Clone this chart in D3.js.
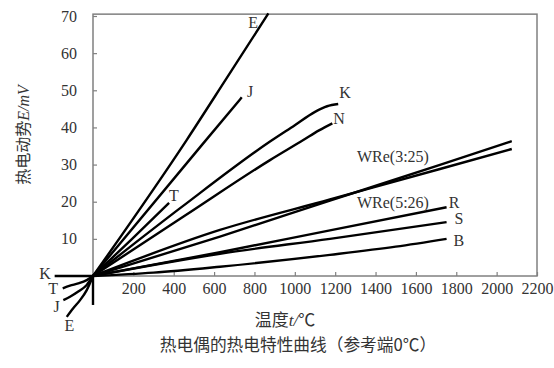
<!DOCTYPE html>
<html>
<head>
<meta charset="utf-8">
<script src="https://cdn.jsdelivr.net/npm/d3@7/dist/d3.min.js"></script>
<style>
  html, body { margin: 0; padding: 0; background: #fff; }
  svg { display: block; }
</style>
</head>
<body>
<svg id="chart" width="554" height="368"></svg>
<script>
// ---- data (temperature °C, EMF mV) ----
const xTicks = [200, 400, 600, 800, 1000, 1200, 1400, 1600, 1800, 2000, 2200];
const yTicks = [10, 20, 30, 40, 50, 60, 70];

// positive-temperature branches
const curveE = [[0, 0], [464, 36.6], [664, 53.4], [869, 70.7]];
const curveJ = [[0, 0], [540, 35.3], [737, 48.1]];
const curveT = [[0, 0], [190, 9.8], [377, 19.7]];
const curveK = [[0, 0], [440, 18.6], [877, 36.2], [1000, 40.6], [1100, 44.2], [1160, 45.7], [1215, 46.3]];
const curveN = [[0, 0], [460, 16.4], [877, 31.2], [1042, 36.6], [1120, 39.2], [1186, 41.1]];
const curveWRe526 = [[0, 0], [629, 12.4], [1174, 20.6], [1719, 28.8], [2075, 34.2]];
const curveWRe325 = [[0, 0], [629, 10.6], [1174, 20.3], [1719, 29.9], [2075, 36.3]];
const curveR = [[0, 0], [629, 6.4], [1174, 12.3], [1752, 18.5]];
const curveS = [[0, 0], [629, 6.0], [1174, 10.0], [1752, 14.5]];
const curveB = [[0, 0], [300, 0.9], [629, 2.5], [1174, 5.7], [1500, 7.9], [1752, 10.0]];

// negative-temperature branches
const negE = [[-130, -11.0], [-98, -8.7], [-64, -6.5], [-31, -3.8], [0, 0]];
const negJ = [[-147, -6.5], [-114, -5.6], [-73, -4.2], [-31, -2.4], [0, 0]];
const negT = [[-150, -3.3], [-114, -2.6], [-73, -2.0], [-31, -1.1], [0, 0]];
const negK = [[-190, 0], [0, 0]];

const seriesList = [curveE, curveJ, curveT, curveK, curveN, curveWRe526, curveWRe325, curveR, curveS, curveB,
                    negE, negJ, negT, negK];

// curve labels, anchored at data coordinates
const labelText = ["E", "J", "K", "N", "T", "WRe(3:25)", "WRe(5:26)", "R", "S", "B", "K", "T", "J", "E"];
const labelT    = [794, 778, 1249, 1219, 401, 1308, 1308, 1789, 1813, 1813, -238, -197, -180, -117];
const labelV    = [68.2, 49.6, 49.3, 42.5, 21.8, 32.3, 19.7, 19.7, 15.5, 9.7, 0.7, -3.3, -8.3, -13.2];
const labelAnchor = ["middle", "middle", "middle", "middle", "middle", "start", "start", "middle", "middle", "middle", "middle", "middle", "middle", "middle"];

const xDomain = [0, 2200];
const yDomain = [0, 70];
const yBoxTop = 70.5;
const yAxisBottom = -7.8;

// ---- drawing ----
const svg = d3.select("#chart");
const x = d3.scaleLinear().domain(xDomain).range([93, 537]);
const y = d3.scaleLinear().domain(yDomain).range([276, 16]);

const serif = "'Liberation Serif', 'Times New Roman', serif";
const cjk = "'Noto Sans CJK SC', sans-serif";

// plot box
svg.append("rect")
  .attr("x", x(xDomain[0])).attr("y", y(yBoxTop))
  .attr("width", x(xDomain[1]) - x(xDomain[0]))
  .attr("height", y(0) - y(yBoxTop))
  .attr("fill", "none").attr("stroke", "#808080").attr("stroke-width", 1.5);

// y axis extension below zero
svg.append("line")
  .attr("x1", x(0)).attr("x2", x(0))
  .attr("y1", y(0)).attr("y2", y(yAxisBottom))
  .attr("stroke", "#000").attr("stroke-width", 2.4);

// axes
const xAxis = svg.append("g").attr("transform", `translate(0,${y(0)})`)
  .call(d3.axisBottom(x).tickValues(xTicks).tickFormat(d3.format("d"))
    .tickSize(-4).tickSizeOuter(0).tickPadding(7));
const yAxis = svg.append("g").attr("transform", `translate(${x(0)},0)`)
  .call(d3.axisLeft(y).tickValues(yTicks).tickFormat(d3.format("d"))
    .tickSize(-4).tickSizeOuter(0).tickPadding(16));
[xAxis, yAxis].forEach(g => {
  g.select(".domain").remove();
  g.selectAll(".tick line").attr("stroke", "#808080").attr("stroke-width", 1.2);
  g.selectAll(".tick text").attr("font-family", serif).attr("font-size", 16).attr("fill", "#333");
});

// curves
const line = d3.line().x(d => x(d[0])).y(d => y(d[1])).curve(d3.curveMonotoneX);
svg.append("g").selectAll("path").data(seriesList).join("path")
  .attr("d", line)
  .attr("fill", "none").attr("stroke", "#000").attr("stroke-width", 2.4)
  .attr("stroke-linejoin", "round").attr("stroke-linecap", "butt");

// curve labels
svg.append("g").selectAll("text").data(labelText).join("text")
  .attr("x", (d, i) => x(labelT[i]))
  .attr("y", (d, i) => y(labelV[i]))
  .attr("dy", "0.35em")
  .attr("text-anchor", (d, i) => labelAnchor[i])
  .attr("font-family", serif).attr("font-size", 16).attr("fill", "#333")
  .text(d => d);

// y axis title
const yt = svg.append("text")
  .attr("transform", "translate(23,135) rotate(-90)")
  .attr("text-anchor", "middle").attr("dy", "0.35em")
  .attr("font-size", 16).attr("fill", "#333");
yt.append("tspan").attr("font-family", cjk).text("热电动势");
yt.append("tspan").attr("font-family", serif).attr("font-style", "italic").text("E/mV");

// x axis title
const xt = svg.append("text")
  .attr("x", 285).attr("y", 320).attr("dy", "0.35em")
  .attr("text-anchor", "middle").attr("font-size", 17).attr("fill", "#333");
xt.append("tspan").attr("font-family", cjk).text("温度");
xt.append("tspan").attr("font-family", serif).attr("font-style", "italic").text("t");
xt.append("tspan").attr("font-family", serif).attr("font-style", "italic").text("/");
xt.append("tspan").attr("font-family", cjk).text("℃");

// caption
svg.append("text")
  .attr("x", 298).attr("y", 345).attr("dy", "0.35em")
  .attr("text-anchor", "middle").attr("font-family", cjk)
  .attr("font-size", 16.7).attr("fill", "#333")
  .text("热电偶的热电特性曲线（参考端0℃）");
</script>
</body>
</html>
